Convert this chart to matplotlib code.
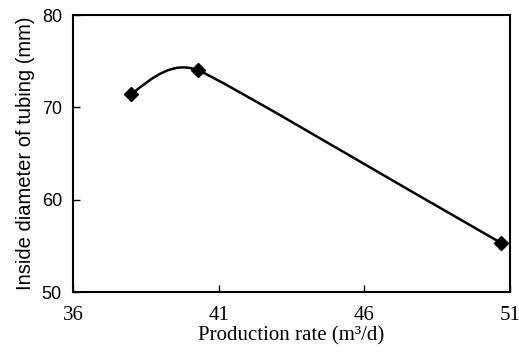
import matplotlib
matplotlib.use("Agg")
import matplotlib.pyplot as plt
from matplotlib.path import Path
from matplotlib.patches import PathPatch
import numpy as np

# ─── DATA ──────────────────────────────────────────────────────────────────────
production_rate = [38.0, 40.3, 50.7]     # m3/d
inside_diameter = [71.4, 74.0, 55.3]     # mm
x_ticks = [36, 41, 46, 51]
y_ticks = [50, 60, 70, 80]

SERIF = ["Liberation Serif", "DejaVu Serif"]
SANS = ["Liberation Sans", "DejaVu Sans"]

fig = plt.figure(figsize=(5.19, 3.52), dpi=100)
ax = fig.add_axes([73 / 519, 1 - 292 / 352, (510 - 73) / 519, (292 - 15) / 352])
ax.set_xlim(36, 51)
ax.set_ylim(50, 80)

# ─── smoothed line, built in screen space then mapped back to data ────────────
disp = ax.transData.transform(np.column_stack([production_rate, inside_diameter]))
n = len(disp)
segs = [np.hypot(*(disp[i + 1] - disp[i])) for i in range(n - 1)]
tang, handle = [], []
for i in range(n):
    d = disp[min(i + 1, n - 1)] - disp[max(i - 1, 0)]
    tang.append(d / np.hypot(*d))
    handle.append(0.38 * min(segs[max(i - 1, 0)], segs[min(i, n - 2)]))
verts = [disp[0]]
codes = [Path.MOVETO]
for i in range(n - 1):
    c1 = disp[i] + tang[i] * handle[i]
    c2 = disp[i + 1] - tang[i + 1] * handle[i + 1]
    if i == 0:
        c1 = disp[i] + (c2 - disp[i]) / 2
    verts += [c1, c2, disp[i + 1]]
    codes += [Path.CURVE4] * 3
verts = ax.transData.inverted().transform(np.array(verts))
ax.add_patch(PathPatch(Path(verts, codes), facecolor="none", edgecolor="black", lw=1.8))

ax.plot(production_rate, inside_diameter, linestyle="none", marker="D",
        markersize=7, color="black")

ax.set_xticks(x_ticks)
ax.set_yticks(y_ticks)
ax.tick_params(direction="in", length=5, width=1)
ax.tick_params(axis="x", pad=10)
ax.tick_params(axis="y", pad=8)
for lab in ax.get_xticklabels():
    lab.set_family(SERIF)
    lab.set_fontsize(15)
for lab in ax.get_yticklabels():
    lab.set_family(SANS)
    lab.set_fontsize(13)
for s in ax.spines.values():
    s.set_linewidth(1.5)

ax.set_xlabel("Production rate (m³/d)", fontsize=15, family=SERIF, labelpad=1)
ax.set_ylabel("Inside diameter of tubing (mm)", fontsize=14.5, family=SANS, labelpad=5)

fig.savefig("out.png", dpi=100)
